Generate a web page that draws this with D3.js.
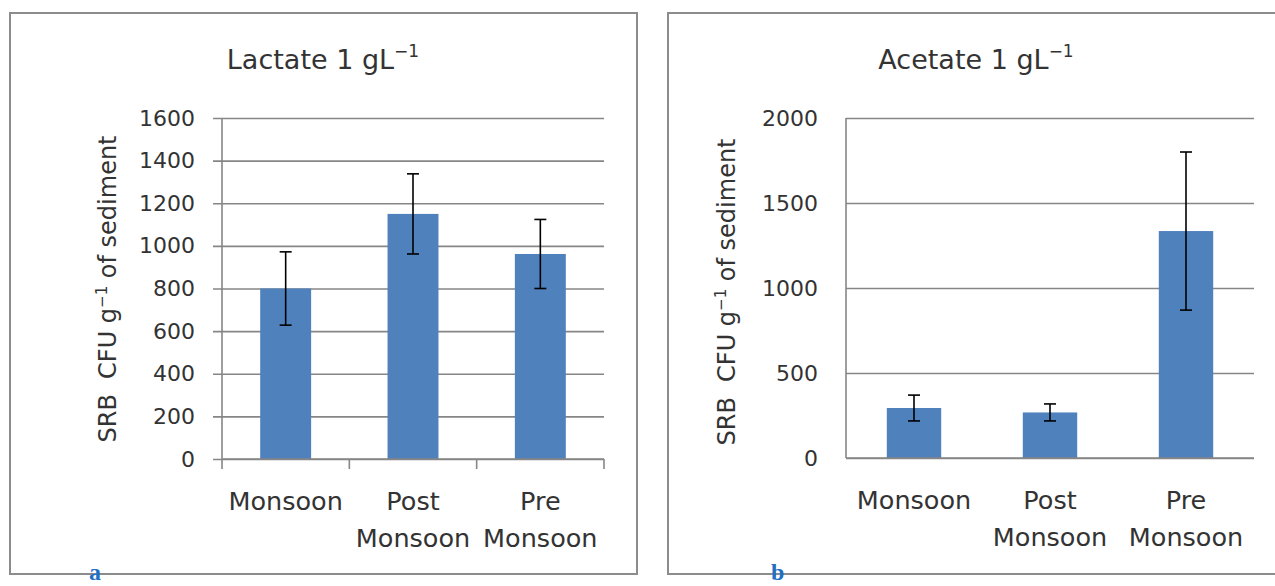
<!DOCTYPE html>
<html>
<head>
<meta charset="utf-8">
<script src="https://cdn.jsdelivr.net/npm/d3@7"></script>
<style>
  body { margin: 0; background: #fff; }
  text { fill: #333; }
</style>
</head>
<body>
<div id="chart"></div>
<script>
// data
var categories = ["Monsoon", "Post Monsoon", "Pre Monsoon"];
var lactateMeans = [800, 1150, 962];
var lactateErrors = [172, 188, 162];
var acetateMeans = [294, 268, 1335];
var acetateErrors = [76, 50, 465];
var lactateTicks = [0, 200, 400, 600, 800, 1000, 1200, 1400, 1600];
var acetateTicks = [0, 500, 1000, 1500, 2000];

var FONT = "DejaVu Sans, sans-serif";

var svg = d3.select("#chart").append("svg")
    .attr("width", 1275)
    .attr("height", 586);

svg.append("rect").attr("width", 1275).attr("height", 586).attr("fill", "#fff");

function drawPanel(p) {
  var g = svg.append("g").style("font-family", FONT);

  // panel frame
  g.append("rect")
      .attr("x", p.frame[0]).attr("y", p.frame[1])
      .attr("width", p.frame[2]).attr("height", p.frame[3])
      .attr("fill", "none")
      .attr("stroke", "#8c8c8c")
      .attr("stroke-width", 2);

  var x = d3.scaleBand()
      .domain(categories)
      .range([p.left, p.right])
      .paddingInner(0)
      .paddingOuter(0);

  var y = d3.scaleLinear()
      .domain([0, p.max])
      .range([p.bottom, p.top]);

  // gridlines
  g.append("g")
      .attr("transform", "translate(" + (p.left - p.gridOut) + ",0)")
      .call(d3.axisRight(y).tickValues(p.ticks).tickSize(p.right - p.left + p.gridOut).tickFormat(""))
      .call(function(s) {
        s.select(".domain").remove();
        s.selectAll(".tick line").attr("stroke", "#868686").attr("stroke-width", 1.6);
      });

  // y tick labels
  g.append("g")
      .attr("transform", "translate(" + p.left + ",0)")
      .call(d3.axisLeft(y).tickValues(p.ticks).tickSize(0).tickPadding(p.labelPad).tickFormat(d3.format("d")))
      .call(function(s) {
        s.select(".domain").remove();
        s.selectAll("text").attr("font-size", 22).style("font-family", FONT).attr("fill", "#333");
      });

  // bars
  var bw = x.bandwidth() * 0.4;
  g.append("g").selectAll("rect")
      .data(categories)
    .enter().append("rect")
      .attr("x", function(d) { return x(d) + (x.bandwidth() - bw) / 2; })
      .attr("y", function(d, i) { return y(p.means[i]); })
      .attr("width", bw)
      .attr("height", function(d, i) { return y(0) - y(p.means[i]); })
      .attr("fill", "#4f81bd");

  // error bars
  var eb = g.append("g").selectAll("g")
      .data(categories)
    .enter().append("g")
      .attr("stroke", "#000")
      .attr("stroke-width", 1.6);
  var cx = function(d) { return x(d) + x.bandwidth() / 2; };
  eb.append("line")
      .attr("x1", cx).attr("x2", cx)
      .attr("y1", function(d, i) { return y(p.means[i] + p.errs[i]); })
      .attr("y2", function(d, i) { return y(p.means[i] - p.errs[i]); });
  [1, -1].forEach(function(sign) {
    eb.append("line")
        .attr("x1", function(d) { return cx(d) - 6; })
        .attr("x2", function(d) { return cx(d) + 6; })
        .attr("y1", function(d, i) { return y(p.means[i] + sign * p.errs[i]); })
        .attr("y2", function(d, i) { return y(p.means[i] + sign * p.errs[i]); });
  });

  // axes lines
  g.append("line")
      .attr("x1", p.left).attr("x2", p.left)
      .attr("y1", p.top).attr("y2", p.bottom)
      .attr("stroke", "#868686").attr("stroke-width", 1.6);
  g.append("line")
      .attr("x1", p.left).attr("x2", p.right)
      .attr("y1", p.bottom).attr("y2", p.bottom)
      .attr("stroke", "#868686").attr("stroke-width", 1.6);

  if (p.xTicks) {
    var bounds = categories.map(function(d) { return x(d); }).concat([p.right]);
    g.append("g").selectAll("line")
        .data(bounds)
      .enter().append("line")
        .attr("x1", function(d) { return d; }).attr("x2", function(d) { return d; })
        .attr("y1", p.bottom).attr("y2", p.bottom + 10)
        .attr("stroke", "#868686").attr("stroke-width", 1.6);
  }

  // category labels, wrapped onto two lines
  var lab = g.append("g").selectAll("text")
      .data(categories)
    .enter().append("text")
      .attr("x", cx)
      .attr("y", p.bottom + 51)
      .attr("text-anchor", "middle")
      .attr("font-size", 25.5);
  lab.each(function(d) {
    var words = d.split(" ");
    var t = d3.select(this);
    words.forEach(function(w, i) {
      t.append("tspan").attr("x", cx(d)).attr("dy", i ? 37 : 0).text(w);
    });
  });

  // title
  var title = g.append("text")
      .attr("x", p.titleX)
      .attr("y", 69)
      .attr("text-anchor", "middle")
      .attr("font-size", 27);
  title.append("tspan").text(p.title + " 1 gL");
  title.append("tspan").attr("dy", -12).attr("font-size", 17).text("\u22121");

  // y axis title
  var yt = g.append("text")
      .attr("transform", "translate(" + p.yTitleX + "," + p.yTitleY + ") rotate(-90)")
      .attr("text-anchor", "middle")
      .attr("dy", "0.35em")
      .attr("font-size", 24)
      .style("white-space", "pre");
  yt.append("tspan").text("SRB  CFU g");
  yt.append("tspan").attr("dy", -9).attr("font-size", 15).text("\u22121");
  yt.append("tspan").attr("dy", 9).text(" of sediment");

  // panel letter
  svg.append("text")
      .attr("x", p.letterX)
      .attr("y", 580)
      .style("font-family", "Liberation Serif, serif")
      .style("font-weight", "bold")
      .style("font-size", "24px")
      .style("fill", "#1f6fc5")
      .text(p.letter);
}

drawPanel({
  frame: [10, 13, 627, 561],
  left: 222, right: 604, top: 118, bottom: 459,
  gridOut: 9, labelPad: 27, xTicks: true,
  max: 1600, ticks: lactateTicks,
  means: lactateMeans, errs: lactateErrors,
  title: "Lactate", titleX: 323,
  yTitleX: 108, yTitleY: 289,
  letter: "a", letterX: 89
});

drawPanel({
  frame: [668, 13, 630, 561],
  left: 846, right: 1254, top: 118, bottom: 458,
  gridOut: 0, labelPad: 28, xTicks: false,
  max: 2000, ticks: acetateTicks,
  means: acetateMeans, errs: acetateErrors,
  title: "Acetate", titleX: 976,
  yTitleX: 727, yTitleY: 292,
  letter: "b", letterX: 771
});
</script>
</body>
</html>
